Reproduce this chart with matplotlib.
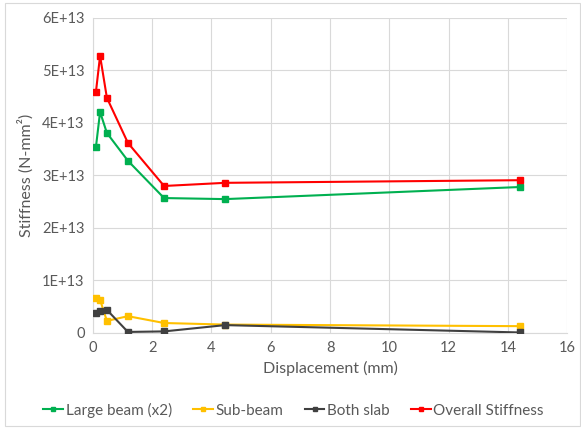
import matplotlib.pyplot as plt
from matplotlib.ticker import FuncFormatter

# --------------------------------------------------------------------------- #
#  Data
# --------------------------------------------------------------------------- #
displacement = [0.1, 0.24, 0.47, 1.18, 2.4, 4.46, 14.4]

large_beam = [3.54e13, 4.21e13, 3.81e13, 3.28e13, 2.57e13, 2.55e13, 2.78e13]
sub_beam = [0.67e13, 0.63e13, 0.23e13, 0.32e13, 0.19e13, 0.16e13, 0.13e13]
both_slab = [0.38e13, 0.42e13, 0.44e13, 0.02e13, 0.03e13, 0.15e13, 0.01e13]
overall = [4.59e13, 5.28e13, 4.48e13, 3.62e13, 2.80e13, 2.86e13, 2.91e13]

series = [
    ("Large beam (x2)", large_beam, "#00b050"),
    ("Sub-beam", sub_beam, "#ffc000"),
    ("Both slab", both_slab, "#404040"),
    ("Overall Stiffness", overall, "#ff0000"),
]

TEXT = "#595959"
GRID = "#d9d9d9"

plt.rcParams["font.family"] = ["Lato", "DejaVu Sans"]

fig = plt.figure(figsize=(5.81, 4.28), dpi=100)
ax = fig.add_axes([0.160, 0.222, 0.816, 0.736])

for name, vals, color in series:
    ax.plot(displacement, vals, color=color, linewidth=1.5, marker="s",
            markersize=5, label=name, zorder=3)

ax.set_xlim(0, 16)
ax.set_ylim(0, 6e13)
ax.set_xticks(range(0, 17, 2))
ax.set_yticks([i * 1e13 for i in range(7)])
ax.yaxis.set_major_formatter(
    FuncFormatter(lambda v, _: "0" if v == 0 else f"{int(round(v / 1e13))}E+13"))

ax.grid(True, color=GRID, linewidth=0.8, zorder=0)
for side in ("top", "right"):
    ax.spines[side].set_visible(False)
for side in ("left", "bottom"):
    ax.spines[side].set_color(GRID)
ax.tick_params(length=0, colors=TEXT, labelsize=10.5, pad=6)

ax.set_xlabel("Displacement (mm)", color=TEXT, fontsize=11.5, labelpad=4)
ax.set_ylabel("Stiffness (N-mm²)", color=TEXT, fontsize=11.5, labelpad=6)

leg = fig.legend(loc="lower center", bbox_to_anchor=(0.505, -0.008), ncol=4,
                 frameon=False, fontsize=11, handlelength=1.3,
                 handletextpad=0.15, columnspacing=1.4, markerscale=0.7)
for t in leg.get_texts():
    t.set_color(TEXT)

fig.patches.append(plt.Rectangle((0.008, 0.004), 0.99, 0.99,
                                 transform=fig.transFigure, fill=False,
                                 edgecolor=GRID, linewidth=0.8))

fig.savefig("out.png", dpi=100)
